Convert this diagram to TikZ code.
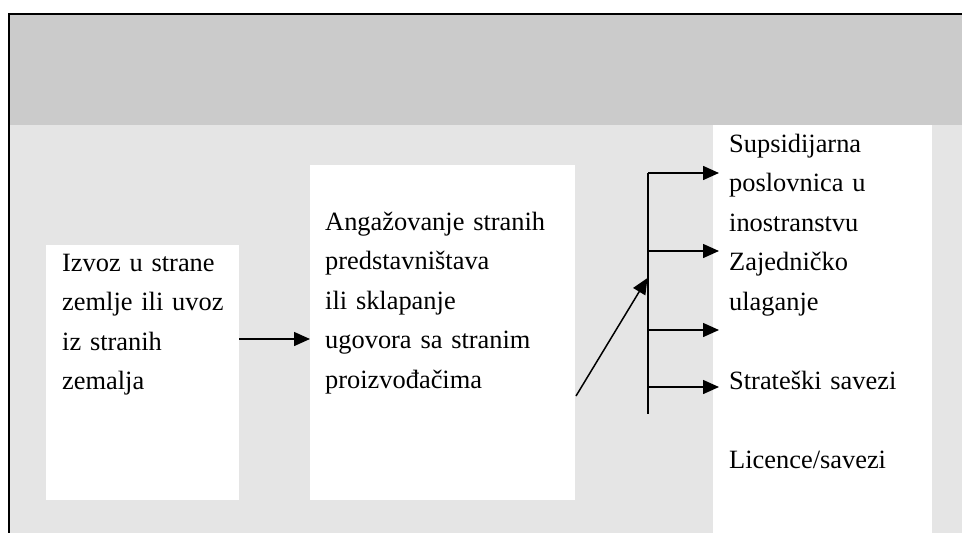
\documentclass[tikz,border=0pt]{standalone}
\usepackage{fontspec}
\setmainfont{Liberation Serif}
\usetikzlibrary{arrows.meta}
\definecolor{bandgray}{HTML}{CBCBCB}
\definecolor{cellgray}{HTML}{E5E5E5}
\tikzset{
  whitebox/.style={fill=white, draw=none, inner sep=0pt, anchor=north west},
  label/.style={anchor=base west, align=left, text width=#1, inner sep=0pt,
    font=\fontsize{26.4}{39.5}\selectfont},
  arr/.style={line width=1.5pt, -{Triangle[length=16pt,width=14pt]}},
  plain/.style={line width=1.5pt}
}
\begin{document}
\begin{tikzpicture}[x=1pt,y=-1pt]
\useasboundingbox (0,0) rectangle (962,533);
\fill[white] (0,0) rectangle (962,533);
\fill[cellgray] (9,14) rectangle (962,533);
\fill[bandgray] (9,15) rectangle (962,125);
\draw[line width=1.5pt] (8,14) -- (962,14);
\draw[line width=2pt] (8.5,14) -- (8.5,533);

\node[whitebox, minimum width=193pt, minimum height=255pt] (b1) at (46,245) {};
\node[whitebox, minimum width=265pt, minimum height=335pt] (b2) at (310,165) {};
\node[whitebox, minimum width=219pt, minimum height=408pt] (b3) at (713,125) {};

\node[label=175pt] (t1) at (62,271) {Izvoz u strane\\zemlje ili uvoz\\iz stranih\\zemalja};
\node[label=255pt] (t2) at (325,230) {Angažovanje stranih\\predstavništava\\ili sklapanje\\ugovora sa stranim\\proizvođačima};
\node[label=200pt] (t3) at (729,152) {Supsidijarna\\poslovnica u\\inostranstvu\\Zajedničko\\ulaganje\\\mbox{}\\Strateški savezi\\\mbox{}\\Licence/savezi};

\coordinate (vt) at (648,173);
\coordinate (vb) at (648,414);
\coordinate (ds) at (576,396);
\coordinate (de) at (647.5,278);

\draw[arr] (b1.east |- 0,339) -- (b2.west |- 0,339);
\draw[plain] (vt) -- (vb);
\draw[arr] (ds) -- (de);
\foreach \yy in {173,251,330,387}{
  \draw[arr] (vt |- 0,\yy) -- (719,\yy);
}
\end{tikzpicture}
\end{document}
